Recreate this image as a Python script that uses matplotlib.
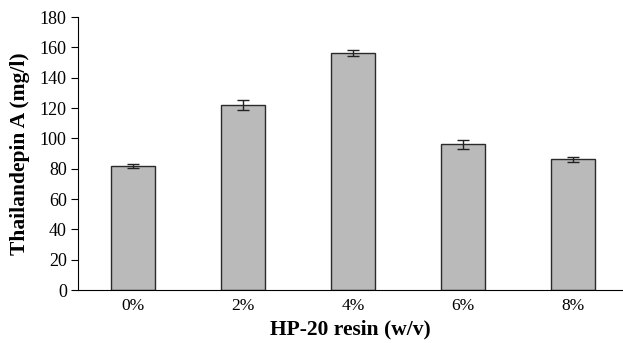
import numpy as np
import matplotlib.pyplot as plt

plt.rcParams['font.family'] = ['Liberation Serif', 'DejaVu Serif']

categories = ['0%', '2%', '4%', '6%', '8%']
values = [81.7, 122.2, 156.4, 96.2, 86.2]
errors = [1.2, 3.2, 2.1, 3.0, 1.7]

fig = plt.figure(figsize=(6.23, 3.43), dpi=100)
ax = fig.add_axes([0.125, 0.1545, 0.875, 0.7955])

x = np.arange(len(categories))
ax.bar(x, values, width=0.4, color='#bababa', edgecolor='#2a2a2a', linewidth=1.0,
       yerr=errors, capsize=4, error_kw=dict(ecolor='#222222', elinewidth=1.0, capthick=1.0))

ax.set_xlim(-0.5, 4.45)
ax.set_ylim(0, 180)
ax.set_yticks(np.arange(0, 181, 20))
ax.set_xticks(x)
ax.set_xticklabels(categories, fontsize=12.5)
ax.tick_params(axis='x', length=0, pad=6)
ax.tick_params(axis='y', direction='out', length=5, labelsize=13, pad=3)
ax.spines['top'].set_visible(False)
ax.spines['right'].set_visible(False)

ax.set_xlabel('HP-20 resin (w/v)', fontsize=15.5, fontweight='bold', labelpad=4)
ax.set_ylabel('Thailandepin A (mg/l)', fontsize=15.5, fontweight='bold', labelpad=7)

fig.savefig('out.png', dpi=100)
